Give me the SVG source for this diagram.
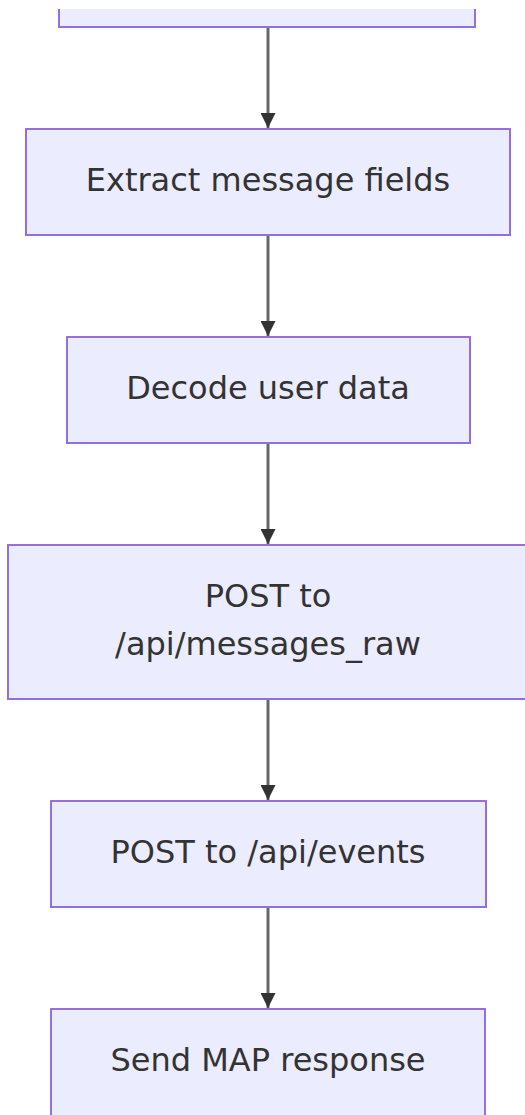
<svg xmlns="http://www.w3.org/2000/svg" width="525" height="1115" viewBox="0 0 525 1115">
<defs>
<style>
.node rect,.node path.box{fill:#ECECFF;stroke:#9370DB;stroke-width:2}
.node text{font-family:"DejaVu Sans",Verdana,sans-serif;font-size:32px;fill:#333;text-anchor:middle}
.edge{stroke:#666;stroke-width:3;fill:none}
</style>
<marker id="arrow" viewBox="0 0 10 10" refX="10" refY="5" markerWidth="15" markerHeight="15" markerUnits="userSpaceOnUse" orient="auto">
<path d="M0,0 L10,5 L0,10 z" fill="#333"/>
</marker>
</defs>
<rect width="525" height="1115" fill="#fff"/>
<g id="connectors">
<line class="edge" x1="268" y1="28" x2="268" y2="128" marker-end="url(#arrow)"/>
<line class="edge" x1="268" y1="236" x2="268" y2="336" marker-end="url(#arrow)"/>
<line class="edge" x1="268" y1="444" x2="268" y2="544" marker-end="url(#arrow)"/>
<line class="edge" x1="268" y1="700" x2="268" y2="800" marker-end="url(#arrow)"/>
<line class="edge" x1="268" y1="908" x2="268" y2="1008" marker-end="url(#arrow)"/>
</g>
<g id="node-top" class="node">
<rect x="59" y="9" width="416" height="18" style="stroke:none"/>
<path d="M59,9 V27 H475 V9" style="fill:none;stroke:#9370DB;stroke-width:2"/>
</g>
<g id="node-extract" class="node">
<rect x="26" y="129" width="484" height="106"/>
<text x="268" y="191">Extract message fields</text>
</g>
<g id="node-decode" class="node">
<rect x="67" y="337" width="403" height="106"/>
<text x="268" y="399">Decode user data</text>
</g>
<g id="node-post-raw" class="node">
<rect x="8" y="545" width="520" height="154"/>
<text x="268" y="607">POST to</text>
<text x="268" y="655">/api/messages_raw</text>
</g>
<g id="node-post-events" class="node">
<rect x="51" y="801" width="435" height="106"/>
<text x="268" y="863">POST to /api/events</text>
</g>
<g id="node-send" class="node">
<rect x="51" y="1009" width="434" height="120"/>
<text x="268" y="1071">Send MAP response</text>
</g>
</svg>
